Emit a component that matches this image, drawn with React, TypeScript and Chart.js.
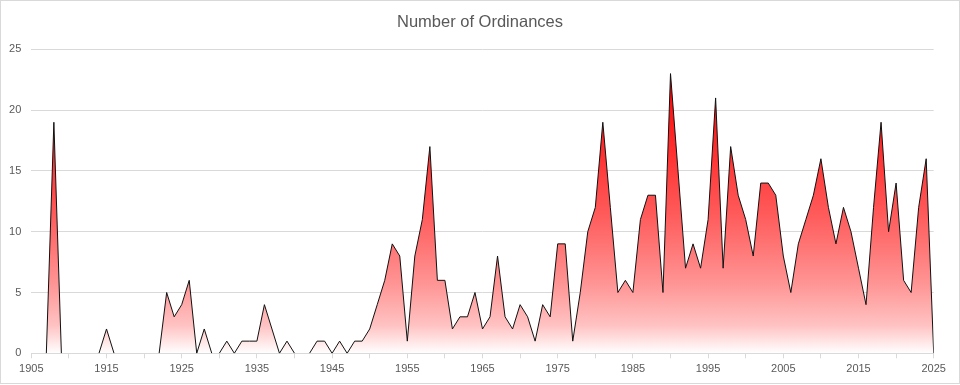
import React, { useEffect, useRef } from "react";
import { Chart, registerables } from "chart.js";

Chart.register(...registerables);

const TITLE = "Number of Ordinances";

const years = [
  1905, 1906, 1907, 1908, 1909, 1910, 1911, 1912, 1913, 1914,
  1915, 1916, 1917, 1918, 1919, 1920, 1921, 1922, 1923, 1924,
  1925, 1926, 1927, 1928, 1929, 1930, 1931, 1932, 1933, 1934,
  1935, 1936, 1937, 1938, 1939, 1940, 1941, 1942, 1943, 1944,
  1945, 1946, 1947, 1948, 1949, 1950, 1951, 1952, 1953, 1954,
  1955, 1956, 1957, 1958, 1959, 1960, 1961, 1962, 1963, 1964,
  1965, 1966, 1967, 1968, 1969, 1970, 1971, 1972, 1973, 1974,
  1975, 1976, 1977, 1978, 1979, 1980, 1981, 1982, 1983, 1984,
  1985, 1986, 1987, 1988, 1989, 1990, 1991, 1992, 1993, 1994,
  1995, 1996, 1997, 1998, 1999, 2000, 2001, 2002, 2003, 2004,
  2005, 2006, 2007, 2008, 2009, 2010, 2011, 2012, 2013, 2014,
  2015, 2016, 2017, 2018, 2019, 2020, 2021, 2022, 2023, 2024,
  2025,
];

const ordinances = [
  0, 0, 0, 19, 0, 0, 0, 0, 0, 0,
  2, 0, 0, 0, 0, 0, 0, 0, 5, 3,
  4, 6, 0, 2, 0, 0, 1, 0, 1, 1,
  1, 4, 2, 0, 1, 0, 0, 0, 1, 1,
  0, 1, 0, 1, 1, 2, 4, 6, 9, 8,
  1, 8, 11, 17, 6, 6, 2, 3, 3, 5,
  2, 3, 8, 3, 2, 4, 3, 1, 4, 3,
  9, 9, 1, 5, 10, 12, 19, 12, 5, 6,
  5, 11, 13, 13, 5, 23, 15, 7, 9, 7,
  11, 21, 7, 17, 13, 11, 8, 14, 14, 13,
  8, 5, 9, 11, 13, 16, 12, 9, 12, 10,
  7, 4, 12, 19, 10, 14, 6, 5, 12, 16,
  0,
];

const X_MIN = 1905;
const X_MAX = 2025;
const X_TICK_STEP = 5;
const X_LABEL_STEP = 10;
const Y_MIN = 0;
const Y_MAX = 25;
const Y_STEP = 5;

const FONT = "'Liberation Sans', Arial, sans-serif";
const TEXT_COLOR = "#595959";
const GRID_COLOR = "#d9d9d9";

// gradient stops (position from top of peak to baseline, colour)
const GRADIENT_STOPS: [number, string][] = [
  [0, "#ff0000"],
  [0.25, "#ff2a2a"],
  [0.5, "#ff5a5a"],
  [0.75, "#ff9494"],
  [0.9, "#ffc2c2"],
  [1, "#ffffff"],
];

export default function App() {
  const ref = useRef<HTMLCanvasElement>(null);

  useEffect(() => {
    const canvas = ref.current;
    if (!canvas) return;
    const peak = Math.max(...ordinances);

    const framePlugin = {
      id: "frame",
      afterDraw(chart: any) {
        const c = chart.ctx;
        c.save();
        c.strokeStyle = GRID_COLOR;
        c.lineWidth = 1;
        c.strokeRect(0.5, 0.5, chart.width - 1, chart.height - 2);
        c.restore();
      },
    };

    const chart = new Chart(canvas, {
      type: "line",
      data: {
        datasets: [
          {
            data: years.map((yr, i) => ({ x: yr, y: ordinances[i] })),
            borderColor: "#111111",
            borderWidth: 1,
            pointRadius: 0,
            tension: 0,
            fill: "origin",
            backgroundColor: (ctx: any) => {
              const ch = ctx.chart;
              const area = ch.chartArea;
              if (!area) return "rgba(255,0,0,0.5)";
              const ys = ch.scales.y;
              const g = ch.ctx.createLinearGradient(
                0,
                ys.getPixelForValue(peak),
                0,
                ys.getPixelForValue(0)
              );
              GRADIENT_STOPS.forEach(([p, c]) => g.addColorStop(p, c));
              return g;
            },
            segment: {
              borderColor: (s: any) =>
                s.p0.parsed.y === 0 && s.p1.parsed.y === 0
                  ? "rgba(0,0,0,0)"
                  : undefined,
            },
          },
        ],
      },
      options: {
        animation: false,
        responsive: false,
        devicePixelRatio: 1,
        layout: { padding: { left: 0, right: 0, top: 0, bottom: 0 } },
        plugins: {
          legend: { display: false },
          tooltip: { enabled: false },
          title: {
            display: true,
            text: TITLE,
            color: TEXT_COLOR,
            font: { family: FONT, size: 16.5, weight: "normal" },
            padding: { top: 13, bottom: 16.5 },
          },
        },
        scales: {
          x: {
            type: "linear",
            min: X_MIN,
            max: X_MAX,
            afterFit(s: any) {
              s.height = 31.7;
            },
            ticks: {
              stepSize: X_TICK_STEP,
              autoSkip: false,
              maxRotation: 0,
              color: TEXT_COLOR,
              font: { family: FONT, size: 11 },
              padding: 4,
              callback: (v: any) =>
                (Number(v) - X_MIN) % X_LABEL_STEP === 0 ? String(v) : "",
            },
            grid: {
              drawOnChartArea: false,
              drawTicks: true,
              tickLength: 5,
              color: GRID_COLOR,
            },
            border: { display: true, color: GRID_COLOR },
          },
          y: {
            min: Y_MIN,
            max: Y_MAX,
            afterFit(s: any) {
              s.width = 31.3;
            },
            ticks: {
              stepSize: Y_STEP,
              color: TEXT_COLOR,
              font: { family: FONT, size: 11 },
              padding: 10,
            },
            grid: { color: GRID_COLOR, drawTicks: false },
            border: { display: false },
          },
          yRight: {
            position: "right",
            min: 0,
            max: 1,
            afterFit(s: any) {
              s.width = 26.3;
            },
            ticks: { display: false },
            grid: { display: false, drawTicks: false },
            border: { display: false },
          },
        },
      } as any,
      plugins: [framePlugin],
    });

    return () => chart.destroy();
  }, []);

  return (
    <div
      style={{
        position: "fixed",
        left: 0,
        top: 0,
        width: 960,
        height: 385,
        background: "#ffffff",
      }}
    >
      <canvas ref={ref} width={960} height={385} style={{ display: "block" }} />
    </div>
  );
}
